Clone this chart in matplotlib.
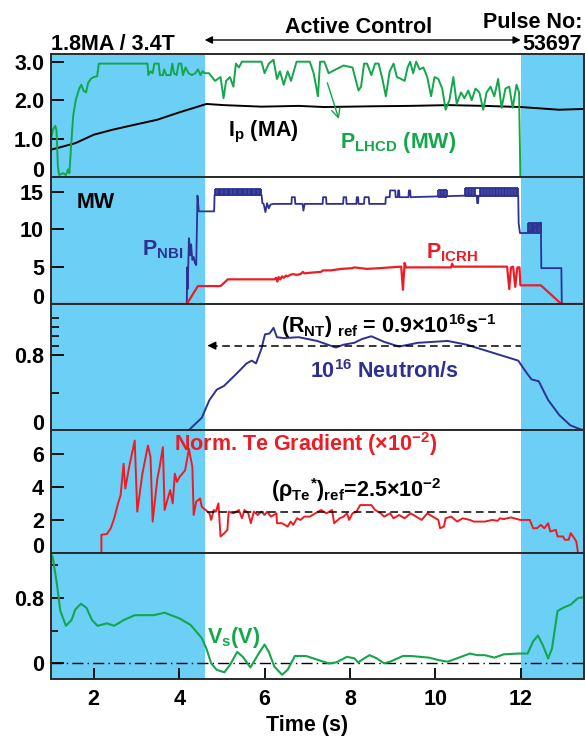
import matplotlib
matplotlib.use("Agg")
import matplotlib.pyplot as plt
from matplotlib import transforms

plt.rcParams["font.family"] = ["Liberation Sans", "DejaVu Sans"]
plt.rcParams["font.weight"] = "bold"
plt.rcParams["font.size"] = 15.5
plt.rcParams["mathtext.default"] = "regular"
plt.rcParams["axes.linewidth"] = 1.4
plt.rcParams["axes.edgecolor"] = "#2a2a2a"

SKY = "#6ccff6"
GREEN = "#14a64b"
RED = "#ed1c24"
NAVY = "#2e3192"

# ---- plasma current (MA) ----
ip_t = [1.00, 1.57, 2.00, 2.44, 2.96, 3.49, 4.00, 4.64, 5.05, 5.93, 6.80, 7.40,
        8.54, 9.40, 10.30, 11.16, 12.00, 12.90, 13.47]
ip_v = [0.71, 0.88, 1.10, 1.23, 1.36, 1.49, 1.68, 1.90, 1.87, 1.83, 1.85, 1.82,
        1.84, 1.85, 1.87, 1.85, 1.82, 1.75, 1.77]

# ---- LHCD power (MW) ----
lh_t = [1.00, 1.05, 1.10, 1.13, 1.16, 1.19, 1.28, 1.35, 1.40, 1.43, 1.47, 1.52,
        1.58, 1.66, 1.71, 1.76, 1.82, 1.87, 1.93, 2.00, 2.08, 2.12, 3.26, 3.28,
        3.33, 3.38, 3.42, 3.45, 3.52, 3.55, 3.62, 3.65, 3.70, 3.80, 3.84, 3.88,
        3.94, 3.99, 4.05, 4.09, 4.15, 4.22, 4.30, 4.38, 4.44, 4.50, 4.55, 4.60,
        4.70, 4.84, 4.97, 5.04, 5.10, 5.19, 5.27, 5.33, 5.40, 5.47, 5.93, 6.00,
        6.10, 6.21, 6.29, 6.36, 6.45, 6.54, 6.62, 6.75, 7.06, 7.15, 7.25, 7.30,
        7.40, 7.50, 7.67, 7.85, 8.06, 8.20, 8.26, 8.33, 8.40, 8.50, 8.59, 8.67,
        8.76, 8.84, 8.93, 9.02, 9.10, 9.20, 9.28, 9.35, 9.41, 9.48, 9.55, 9.63,
        9.72, 9.81, 9.90, 9.98, 10.07, 10.16, 10.24, 10.33, 10.42, 10.50, 10.60,
        10.68, 10.77, 10.85, 10.94, 11.03, 11.12, 11.20, 11.29, 11.38, 11.47,
        11.55, 11.64, 11.73, 11.81, 11.90, 11.96, 11.99]
lh_v = [0.98, 1.25, 1.33, 1.20, 0.30, 0.05, 0.10, 0.05, 0.20, 0.10, 0.80, 1.60,
        2.00, 2.30, 2.40, 2.25, 2.20, 2.45, 2.55, 2.60, 2.62, 2.95, 2.95, 2.65,
        2.75, 2.70, 2.95, 2.95, 2.95, 2.65, 2.65, 2.80, 2.65, 2.65, 2.95, 2.70,
        2.65, 2.95, 2.95, 2.65, 2.85, 2.70, 2.65, 2.70, 2.80, 2.65, 2.75, 2.70,
        2.70, 2.50, 2.60, 2.05, 2.50, 2.60, 2.35, 2.95, 2.85, 3.00, 3.00, 2.70,
        2.95, 3.05, 2.55, 2.75, 2.40, 2.75, 2.50, 3.00, 3.00, 2.70, 2.10, 3.00,
        3.00, 2.70, 2.80, 2.90, 2.85, 2.25, 2.35, 2.95, 2.95, 2.65, 2.95, 2.95,
        2.55, 2.10, 2.75, 2.95, 2.60, 2.55, 2.50, 2.85, 3.00, 2.70, 3.00, 2.80,
        2.85, 2.60, 2.10, 2.60, 2.55, 2.30, 1.75, 2.00, 2.60, 1.90, 2.20,
        2.05, 2.25, 2.00, 2.30, 2.20, 1.75, 2.20, 2.35, 2.10, 2.55,
        1.80, 2.30, 2.35, 1.80, 2.40, 2.20, 0.00]

# ---- NBI power (MW) ----
nbi_t = [1.00, 4.18, 4.19, 4.20, 4.23, 4.26, 4.28, 4.31, 4.34, 4.37, 4.40, 4.43,
         4.46, 4.82, 4.83, 5.93, 5.95, 5.98, 6.02, 6.06, 6.10, 6.14, 6.20, 6.63,
         6.64, 6.71, 6.72, 6.89, 6.91, 6.94, 7.36, 7.37, 7.44, 7.45, 7.84, 7.85,
         7.91, 7.92, 8.15, 8.16, 8.19, 8.20, 8.33, 8.34, 8.44, 8.45, 8.83, 8.84,
         8.93, 8.94, 9.06, 9.07, 9.12, 9.13, 9.15, 9.16, 9.37, 9.38, 9.41, 9.42,
         10.68, 10.97, 10.98, 11.00, 11.01, 11.94, 11.95, 11.98, 12.16, 12.47,
         12.48, 12.95, 12.96, 13.47]
nbi_v = [0.0, 0.0, 4.9, 2.0, 8.8, 6.5, 8.0, 5.9, 6.3, 5.5, 5.2, 14.5,
         12.4, 12.4, 14.6, 14.6, 13.5, 13.4, 12.3, 13.5, 12.8, 13.3, 13.4, 13.4,
         14.3, 14.3, 13.4, 13.4, 12.5, 13.4, 13.4, 14.3, 14.3, 13.4, 13.4, 14.3,
         14.3, 13.4, 13.4, 14.3, 14.3, 13.4, 13.4, 14.3, 14.3, 13.4, 13.4, 14.3,
         14.3, 15.2, 15.2, 14.3, 14.3, 15.2, 15.2, 14.3, 14.3, 15.2, 15.2, 14.3,
         14.5, 14.5, 13.5, 13.5, 14.5, 14.5, 10.8, 9.5, 9.5, 10.9,
         4.8, 4.8, 0.0, 0.0]
# rapid modulation bursts: switching times, low level, high level
nbi_bursts = [
    ([4.84, 4.87, 4.90, 4.93, 4.96, 4.99, 5.02, 5.05, 5.08, 5.11, 5.14, 5.17,
      5.20, 5.23, 5.26, 5.29, 5.32, 5.35, 5.38, 5.41, 5.44, 5.47, 5.50, 5.53,
      5.56, 5.59, 5.62, 5.65, 5.68, 5.71, 5.74, 5.77, 5.80, 5.83, 5.86, 5.89,
      5.92], 14.6, 15.4),
    ([10.07, 10.10, 10.14, 10.18, 10.21, 10.25, 10.28], 14.3, 15.2),
    ([10.69, 10.72, 10.76, 10.79, 10.83, 10.86, 10.90, 10.93, 11.04, 11.07,
      11.11, 11.14, 11.18, 11.21, 11.25, 11.28, 11.32, 11.35, 11.39, 11.42,
      11.46, 11.49, 11.53, 11.56, 11.60, 11.63, 11.67, 11.70, 11.74, 11.77,
      11.81, 11.84, 11.88, 11.91, 11.94], 14.5, 15.5),
    ([12.17, 12.20, 12.23, 12.26, 12.29, 12.32, 12.35, 12.38, 12.41, 12.44,
      12.47], 9.5, 10.9),
]

# ---- ICRH power (MW) ----
ic_t = [1.00, 4.18, 4.44, 4.97, 5.14, 6.23, 6.27, 6.30, 6.33, 6.37, 6.41, 6.45,
        6.50, 6.54, 6.60, 6.67, 6.75, 6.84, 6.90, 6.93, 7.10, 7.32, 7.37, 7.55,
        7.80, 8.06, 8.10, 8.40, 8.70, 9.20, 9.24, 9.28, 9.31, 10.37, 10.39,
        10.42, 11.68, 11.73, 11.77, 11.82, 11.87, 11.92, 11.97, 11.99, 12.47,
        12.95, 13.47]
ic_v = [0.0, 0.0, 2.4, 2.4, 3.3, 3.3, 3.5, 3.0, 3.6, 3.3, 3.7, 3.5,
        3.8, 3.7, 3.9, 4.0, 3.9, 4.0, 4.3, 4.1, 4.2, 4.3, 4.5, 4.5,
        4.7, 4.8, 4.9, 4.7, 4.8, 5.0, 1.9, 5.5, 4.9, 4.9, 5.4,
        5.0, 5.0, 2.0, 4.9, 5.0, 2.3, 4.9, 4.9, 2.5, 2.5,
        0.0, 0.0]

# ---- neutron rate (1e16 /s) ----
nt_t = [4.23, 4.53, 4.71, 4.88, 5.05, 5.32, 5.58, 5.70, 5.80, 5.93, 6.01, 6.12,
        6.21, 6.29, 6.45, 6.80, 7.23, 7.67, 7.85, 8.10, 8.28, 8.50, 8.80, 9.15,
        9.59, 10.29, 10.73, 11.16, 11.94, 12.12, 12.25, 12.42, 12.64, 12.90,
        13.16, 13.38, 13.47]
nt_v = [0.00, 0.13, 0.32, 0.43, 0.47, 0.59, 0.71, 0.74, 0.71, 0.87, 1.02, 1.03,
        1.09, 0.99, 0.98, 0.99, 0.95, 0.88, 0.91, 0.93, 0.97, 1.00, 0.94, 0.89,
        0.93, 0.95, 0.91, 0.85, 0.74, 0.62, 0.54, 0.52, 0.32, 0.16,
        0.05, 0.01, 0.00]

# ---- normalised Te gradient (x1e-2) ----
te_t = [2.18, 2.18, 2.31, 2.40, 2.48, 2.57, 2.63, 2.70, 2.74, 2.83, 2.96, 3.02,
        3.14, 3.27, 3.33, 3.38, 3.49, 3.53, 3.62, 3.66, 3.79, 3.85, 3.90, 3.95,
        4.01, 4.14, 4.23, 4.31, 4.34, 4.40, 4.49, 4.53, 4.62, 4.71, 4.75, 4.81,
        4.86, 4.92, 4.97, 5.06, 5.13, 5.16, 5.27, 5.40, 5.47, 5.53, 5.62, 5.68,
        5.75, 5.84, 5.93, 6.00, 6.06, 6.15, 6.28, 6.29, 6.41, 6.54, 6.61, 6.67,
        6.76, 6.84, 6.93, 7.06, 7.19, 7.32, 7.45, 7.58, 7.63, 7.76, 7.85, 7.93,
        7.98, 8.06, 8.15, 8.24, 8.50, 8.59, 8.72, 8.80, 8.94, 9.02, 9.15, 9.28,
        9.42, 9.55, 9.68, 9.81, 9.94, 10.07, 10.11, 10.20, 10.24, 10.37, 10.51,
        10.64, 10.81, 10.90, 11.16, 11.33, 11.46, 11.51, 11.60, 11.77, 11.99,
        12.21, 12.29, 12.38, 12.47, 12.55, 12.64, 12.69, 12.82, 12.86, 12.99,
        13.03, 13.12, 13.17, 13.25, 13.30, 13.34]
te_v = [0.0, 1.1, 1.15, 1.5, 2.1, 3.0, 3.5, 5.4, 3.9, 5.2, 6.8, 2.5,
        4.8, 6.5, 5.8, 1.9, 4.5, 5.0, 6.4, 2.6, 3.8, 3.0, 4.8, 4.3,
        4.6, 5.0, 6.3, 5.2, 2.3, 3.1, 3.3, 2.8, 2.6, 2.4, 2.0, 2.6,
        2.5, 3.0, 1.0, 1.2, 1.4, 2.5, 2.4, 2.6, 2.1, 2.6, 2.4, 1.8,
        2.5, 2.3, 2.5, 2.3, 2.5, 2.2, 2.4, 1.8, 1.8, 1.6, 1.9, 1.7,
        2.1, 2.0, 2.2, 2.2, 2.4, 2.6, 2.4, 2.6, 1.8, 2.1, 2.2, 2.4,
        2.0, 2.4, 2.5, 2.9, 2.9, 2.6, 2.4, 2.2, 2.4, 2.1, 2.3, 2.1,
        2.4, 2.2, 2.0, 2.4, 2.2, 2.0, 1.5, 1.6, 2.1, 2.2, 1.9,
        2.1, 2.0, 1.9, 1.9, 2.0, 1.95, 2.1, 2.05, 2.15, 2.0,
        2.0, 1.5, 1.5, 1.7, 1.5, 1.8, 1.3, 1.4, 1.0, 1.0,
        0.8, 0.8, 1.2, 0.9, 0.7, 0.0]

# ---- surface loop voltage (V) ----
vs_t = [1.00, 1.04, 1.13, 1.22, 1.35, 1.48, 1.57, 1.70, 1.83, 1.96, 2.09, 2.31,
        2.48, 2.70, 2.96, 3.31, 3.40, 3.66, 4.01, 4.27, 4.53, 4.64, 4.75, 4.88,
        5.06, 5.19, 5.36, 5.49, 5.67, 5.84, 6.00, 6.10, 6.23, 6.41, 6.54, 6.71,
        6.97, 7.32, 7.50, 7.67, 7.93, 8.11, 8.19, 8.33, 8.46, 8.63, 8.80, 8.94,
        9.24, 9.42, 9.85, 10.07, 10.29, 10.55, 10.81, 10.98, 11.16, 11.38, 11.60,
        11.94, 12.16, 12.29, 12.40, 12.51, 12.64, 12.73, 12.86, 12.99, 13.17,
        13.34, 13.47]
vs_v = [1.34, 1.30, 1.00, 0.64, 0.46, 0.53, 0.66, 0.73, 0.68, 0.53, 0.46, 0.49,
        0.46, 0.53, 0.59, 0.59, 0.59, 0.62, 0.55, 0.47, 0.31, 0.18, 0.00, -0.08,
        -0.11, -0.02, 0.14, 0.08, -0.05, 0.10, 0.23, 0.14, -0.04, -0.14, -0.08, 0.09,
        0.09, 0.03, 0.00, 0.01, 0.08, 0.06, 0.01, 0.06, 0.10, 0.06, 0.00, 0.02,
        0.09, 0.09, 0.07, 0.04, 0.02, 0.07, 0.12, 0.10, 0.10, 0.07, 0.11,
        0.12, 0.12, 0.27, 0.34, 0.23, 0.06, 0.18, 0.64, 0.68, 0.72,
        0.80, 0.81]

x_ticks = [2, 4, 6, 8, 10, 12]
active = (4.6, 12.0)
t_lim = (1.0, 13.48)

# ---- layout: five stacked panels (pixel rows) ----
W, H = 585, 737
fig = plt.figure(figsize=(W / 100, H / 100), dpi=100)
x0, x1 = 51, 584
rows = [(54, 177), (177, 304), (304, 430), (430, 553), (553, 679)]
axs = []
for top, bot in rows:
    ax = fig.add_axes([x0 / W, 1 - bot / H, (x1 - x0) / W, (bot - top) / H])
    ax.set_xlim(*t_lim)
    ax.axvspan(t_lim[0], active[0], color=SKY, lw=0, zorder=0)
    ax.axvspan(active[1], t_lim[1], color=SKY, lw=0, zorder=0)
    ax.tick_params(axis="y", direction="in", length=9, width=1.3,
                   labelsize=15.5, pad=5, right=False)
    ax.tick_params(axis="x", direction="in", length=8, width=1.3,
                   labelsize=15.5, pad=7, top=False)
    axs.append(ax)
ax1, ax2, ax3, ax4, ax5 = axs
for ax in axs[:4]:
    ax.set_xticks([])


def zero_label_up(ax):
    # keep the "0" at a panel floor clear of the panel below
    for tick in ax.yaxis.get_major_ticks():
        if tick.label1.get_text() == "0":
            tick.label1.set_va("baseline")


# panel 1: Ip and LHCD
ax1.plot(ip_t, ip_v, color="black", lw=1.4)
ax1.plot(lh_t, lh_v, color=GREEN, lw=1.4)
ax1.set_ylim(0, 3.2)
ax1.set_yticks([0, 1, 2, 3], ["0", "1.0", "2.0", "3.0"])
ax1.text(5.14, 1.05, "$I_p$ (MA)", color="black", va="baseline")
ax1.text(7.76, 0.75, "$P_{LHCD}$ (MW)", color=GREEN, va="baseline")
ax1.annotate("", xy=(7.76, 1.44), xytext=(7.45, 2.52),
             arrowprops=dict(arrowstyle="->", color=GREEN, lw=1.0))

# panel 2: heating powers
ax2.plot(nbi_t, nbi_v, color=NAVY, lw=1.3)
for times, lo, hi in nbi_bursts:
    ax2.vlines(times, lo, hi, color=NAVY, lw=1.3)
    ax2.hlines([lo, hi], times[0], times[-1], color=NAVY, lw=1.3)
ax2.plot(ic_t, ic_v, color=RED, lw=1.6)
ax2.set_ylim(0, 17)
ax2.set_yticks([0, 5, 10, 15], ["0", "5", "10", "15"])
ax2.text(1.61, 12.9, "MW", color="black", va="baseline")
ax2.text(3.12, 6.5, "$P_{NBI}$", color=NAVY, va="baseline")
ax2.text(9.79, 6.05, "$P_{ICRH}$", color=RED, va="baseline")

# panel 3: neutron rate
ax3.plot(nt_t, nt_v, color=NAVY, lw=1.4)
ax3.set_ylim(0, 1.344)
ax3.set_yticks([0, 0.8], ["0", "0.8"])
ax3.set_yticks([0.4, 0.9, 1.0, 1.1, 1.2], minor=True)
ax3.tick_params(axis="y", which="minor", direction="in", length=5.5, width=1.2)
ax3.hlines(0.9, 4.72, 12.0, color="black", lw=1.1, linestyles=(0, (5, 3)))
ax3.annotate("", xy=(4.6, 0.9), xytext=(4.8, 0.9),
             arrowprops=dict(arrowstyle="-|>", color="black", lw=1.0,
                             mutation_scale=12))
ax3.text(6.38, 1.04, r"$(R_{NT})_{\ ref}$ = 0.9$\times$10$^{16}$s$^{-1}$",
         color="black", va="baseline")
ax3.text(7.06, 0.56, "$10^{16}$ Neutron/s", color=NAVY, va="baseline")

# panel 4: normalised Te gradient
ax4.plot(te_t, te_v, color=RED, lw=1.4)
ax4.set_ylim(0, 7.44)
ax4.set_yticks([0, 2, 4, 6], ["0", "2", "4", "6"])
ax4.hlines(2.5, 4.66, 12.0, color="black", lw=1.1, linestyles=(0, (5, 3)))
ax4.text(3.88, 6.19, r"Norm. Te Gradient ($\times$10$^{-2}$)", color=RED,
         va="baseline")
ax4.text(6.14, 3.37, r"$(\rho_{Te}{}^{*})_{ref}$=2.5$\times$10$^{-2}$",
         color="black", va="baseline")

# panel 5: loop voltage
ax5.plot(vs_t, vs_v, color=GREEN, lw=1.5)
ax5.axhline(0, color="black", lw=1.0, ls=(0, (8, 3, 1, 3)), zorder=1)
ax5.set_ylim(-0.192, 1.352)
ax5.set_yticks([0, 0.8], ["0", "0.8"])
ax5.set_yticks([0.4, 1.2], minor=True)
ax5.tick_params(axis="y", which="minor", direction="in", length=5, width=1.2)
ax5.set_xticks(x_ticks, [str(v) for v in x_ticks])
ax5.text(4.66, 0.25, "$V_s$(V)", color=GREEN, va="baseline")

for ax in axs[:4]:
    zero_label_up(ax)

# header and time label
hdr = transforms.blended_transform_factory(ax1.transData, fig.transFigure)
fig.text(1.0, 1 - 50 / H, "1.8MA / 3.4T", transform=hdr, ha="left",
         va="baseline")
fig.text(8.2, 1 - 33 / H, "Active Control", transform=hdr, ha="center",
         va="baseline")
ax1.annotate("", xy=(active[0], 1 - 40 / H), xytext=(active[1], 1 - 40 / H),
             xycoords=hdr, textcoords=hdr,
             arrowprops=dict(arrowstyle="<|-|>", color="black", lw=1.0,
                             mutation_scale=11, shrinkA=0, shrinkB=0))
fig.text(582 / W, 1 - 28 / H, "Pulse No:", ha="right", va="baseline")
fig.text(582 / W, 1 - 50 / H, "53697", ha="right", va="baseline")
fig.text(7.0, 1 - 731 / H, "Time (s)", transform=hdr, ha="center",
         va="baseline")

fig.savefig("out.png", dpi=100)
